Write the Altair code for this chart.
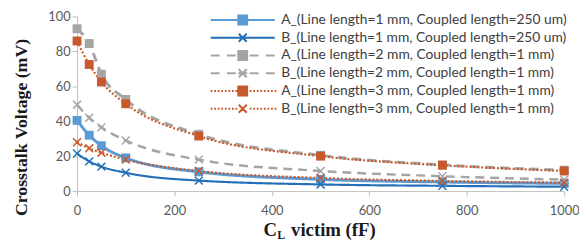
import altair as alt
import pandas as pd

# ---- data ----
cl_victim = [0, 25, 50, 100, 250, 500, 750, 1000]
a_1mm = [40.5, 32, 26, 19, 11, 6.7, 5.2, 4.4]
b_1mm = [21.5, 17, 14, 10.5, 6, 3.8, 3.0, 2.5]
a_2mm = [93, 84.5, 67, 52.5, 32.5, 20.5, 15, 12]
b_2mm = [49.5, 42, 36.5, 29, 18, 11.5, 8.5, 6.5]
a_3mm = [86, 72.5, 62.5, 50, 31.5, 20, 14.8, 11.5]
b_3mm = [28, 24.5, 22, 18, 11.5, 7.5, 5.8, 4.8]

series_names = [
    "A_(Line length=1 mm, Coupled length=250 um)",
    "B_(Line length=1 mm, Coupled length=250 um)",
    "A_(Line length=2 mm, Coupled length=1 mm)",
    "B_(Line length=2 mm, Coupled length=1 mm)",
    "A_(Line length=3 mm, Coupled length=1 mm)",
    "B_(Line length=3 mm, Coupled length=1 mm)",
]
series_values = [a_1mm, b_1mm, a_2mm, b_2mm, a_3mm, b_3mm]
series_kind = ["A", "B", "A", "B", "A", "B"]

x_ticks = [0, 200, 400, 600, 800, 1000]
y_ticks = [0, 20, 40, 60, 80, 100]

# ---- styles ----
colors = ["#5B9BD5", "#2470B8", "#A5A5A5", "#A5A5A5", "#C8592A", "#C8592A"]
dashes = [[1, 0], [1, 0], [9, 6], [9, 6], [2, 2], [2, 2]]
widths = [3, 2.2, 3, 2.5, 2.2, 2.2]

rows = []
for name, kind, vals in zip(series_names, series_kind, series_values):
    for xv, yv in zip(cl_victim, vals):
        rows.append({"series": name, "kind": kind, "x": xv, "y": yv})
df = pd.DataFrame(rows)

# legend symbol paths (unit = 6.5 px)
U = 6.5
def seg(a, b):
    return f"M{a/U:.3f},0H{b/U:.3f}"
sq = "M-0.69,-0.69H0.69V0.69H-0.69Z"
xx = "M-0.62,-0.62L0.62,0.62M-0.62,0.62L0.62,-0.62"
solid = seg(-32.5, 32.5)
dashed = seg(-32.5, -23.5) + seg(-16, -7) + seg(7, 16) + seg(23.5, 32.5)
dashed_b = dashed + seg(-4.5, 4.5)
dots = ""
p = -32.5
while p < 32.5:
    if abs(p + 0.9) > 5:
        dots += seg(p, p + 1.8)
    p += 3.6
legend_paths = [solid + sq, solid + xx, dashed + sq, dashed_b + xx, dots + sq, dots + xx]

# plot layers use the reversed order (keeps their hidden legends separate)
dom_r = series_names[::-1]
color_scale = alt.Scale(domain=dom_r, range=colors[::-1])

x_enc = alt.X("x:Q", scale=alt.Scale(domain=[0, 1000], nice=False),
              axis=alt.Axis(values=x_ticks, title=None, grid=False, tickSize=5, format="d",
                            labelFlush=False, labelOverlap=False,
                            labelPadding=9, domainColor="#BFBFBF", tickColor="#BFBFBF",
                            labelFont="Lato", labelFontSize=13, labelColor="#595959"))
y_enc = alt.Y("y:Q", scale=alt.Scale(domain=[0, 100], nice=False),
              axis=alt.Axis(values=y_ticks, title="Crosstalk Voltage (mV)", grid=False,
                            labelFlush=False, labelOverlap=False,
                            tickSize=5, labelPadding=2, domainColor="#BFBFBF",
                            tickColor="#BFBFBF", labelFont="Lato", labelFontSize=13,
                            labelColor="#595959", titleFont="Liberation Serif",
                            titleFontSize=18, titleFontWeight="bold", titleColor="#1a1a1a",
                            titleAngle=270, titleAlign="center", titleBaseline="middle",
                            titleX=-56, titleY=112))

lines = alt.Chart(df).mark_line(interpolate="monotone").encode(
    x=x_enc, y=y_enc,
    color=alt.Color("series:N", scale=color_scale, legend=None),
    strokeDash=alt.StrokeDash("series:N", scale=alt.Scale(type="ordinal", domain=dom_r, range=dashes[::-1]), legend=None),
    strokeWidth=alt.StrokeWidth("series:N", scale=alt.Scale(type="ordinal", domain=dom_r, range=widths[::-1]), legend=None),
    detail="series:N",
)

squares = alt.Chart(df).transform_filter(alt.datum.kind == "A").mark_square(
    filled=True, size=81, opacity=1).encode(
    x=x_enc, y=y_enc,
    color=alt.Color("series:N", scale=color_scale, legend=None),
)

crosses = alt.Chart(df).transform_filter(alt.datum.kind == "B").mark_point(
    shape="M-1,-1L1,1M-1,1L1,-1", filled=False, size=64, strokeWidth=1.5, opacity=1).encode(
    x=x_enc, y=y_enc,
    color=alt.Color("series:N", scale=color_scale, legend=None),
)

leg = alt.Legend(orient="none", legendX=160.5, legendY=-4, title=None, symbolSize=169,
                 labelOffset=31.5, rowPadding=1, labelFont="Lato", labelFontSize=14,
                 labelColor="#404040", symbolStrokeWidth=2, padding=0, labelLimit=400)
legend_df = pd.DataFrame({"series": series_names, "x": [-5000] * 6, "y": [50] * 6})
legend_layer = alt.Chart(legend_df).mark_point(filled=True, clip=True, size=169, opacity=1).encode(
    x=x_enc, y=y_enc,
    shape=alt.Shape("series:N", scale=alt.Scale(domain=series_names, range=legend_paths), legend=leg),
    fill=alt.Fill("series:N", scale=alt.Scale(domain=series_names, range=colors), legend=leg),
    stroke=alt.Stroke("series:N", scale=alt.Scale(domain=series_names, range=colors), legend=leg),
)

t_c = alt.Chart(pd.DataFrame({"t": ["C"]})).mark_text(font="Liberation Serif", fontWeight="bold",
                                       fontSize=19, align="left", baseline="alphabetic",
                                       color="#1a1a1a").encode(
    x=alt.value(189), y=alt.value(223), text="t:N")
t_l = alt.Chart(pd.DataFrame({"t": ["L"]})).mark_text(font="Liberation Serif", fontWeight="bold",
                                       fontSize=12, align="left", baseline="alphabetic",
                                       color="#1a1a1a").encode(
    x=alt.value(203), y=alt.value(226), text="t:N")
t_v = alt.Chart(pd.DataFrame({"t": ["victim (fF)"]})).mark_text(font="Liberation Serif", fontWeight="bold",
                                       fontSize=19, align="left", baseline="alphabetic",
                                       color="#1a1a1a").encode(
    x=alt.value(217), y=alt.value(223), text="t:N")

chart = alt.layer(lines, squares, crosses, legend_layer, t_c, t_l, t_v).properties(
    width=494, height=177, autosize="none",
    padding={"left": 70, "top": 7, "right": 15, "bottom": 50},
).configure_view(stroke=None)

chart.save("out.html", embed_options={"renderer": "svg", "actions": False})
